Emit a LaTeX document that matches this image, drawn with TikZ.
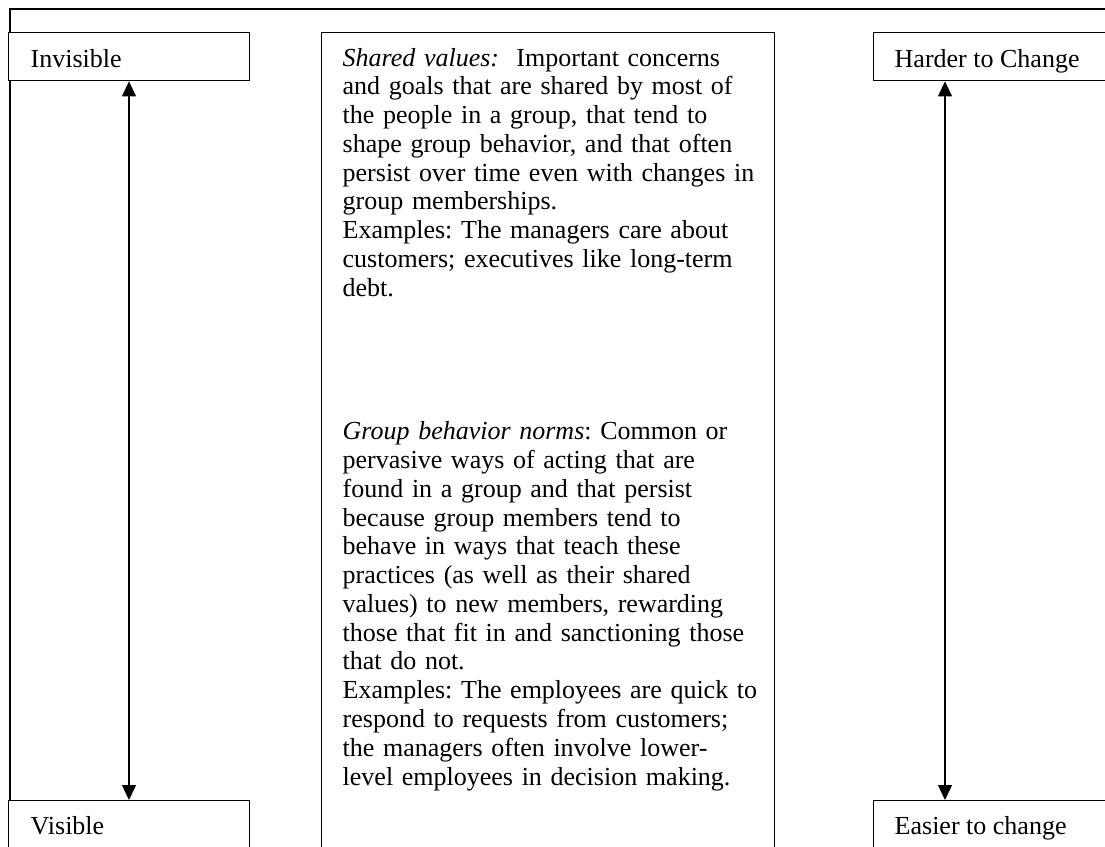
\documentclass[tikz,border=0pt]{standalone}
\usepackage{fontspec}
\setmainfont{Liberation Serif}
\usetikzlibrary{arrows.meta,calc}
\frenchspacing
\begin{document}
\begin{tikzpicture}[x=1pt,y=-1pt,
  line width=1.4pt,
  box/.style={draw,fill=white,anchor=north west,inner sep=0pt},
  lbl/.style={anchor=base west,inner sep=0pt,font=\fontsize{26}{28.76}\selectfont},
  body/.style={anchor=base west,inner sep=0pt,align=left,text width=440pt,
    font=\fontsize{26}{28.76}\selectfont},
  dbl/.style={{Triangle[length=15pt,width=14pt]}-{Triangle[length=15pt,width=14pt]},line width=1.3pt}]
\clip (0,0) rectangle (1105,846);
\fill[white] (0,0) rectangle (1105,846);

% outer frame, open to the right and bottom
\coordinate (frameTL) at (10,9);
\coordinate (frameBL) at (10,800);
\coordinate (frameTR) at (1120,9);
\draw (frameBL) -- (frameTL) -- (frameTR);

% left scale boxes
\node[box,minimum width=241pt,minimum height=48pt] (inv) at (8,32) {};
\node[box,minimum width=241pt,minimum height=60pt] (vis) at (8,800) {};
\node[lbl] (invT) at (30,67) {Invisible};
\node[lbl] (visT) at (30,834) {Visible};

% right scale boxes
\node[box,minimum width=241pt,minimum height=48pt] (hard) at (873,32) {};
\node[box,minimum width=241pt,minimum height=60pt] (easy) at (873,800) {};
\node[lbl] (hardT) at (894,67) {Harder to Change};
\node[lbl] (easyT) at (894,834) {Easier to change};

% central description box
\node[box,minimum width=453pt,minimum height=830pt] (mid) at (321,32) {};
\node[body] (midT) at (342,66) {%
\textit{Shared values:}\ \ Important concerns\\
and goals that are shared by most of\\
the people in a group, that tend to\\
shape group behavior, and that often\\
persist over time even with changes in\\
group memberships.\\
Examples: The managers care about\\
customers; executives like long-term\\
debt.\\[115.04pt]
\textit{Group behavior norms}: Common or\\
pervasive ways of acting that are\\
found in a group and that persist\\
because group members tend to\\
behave in ways that teach these\\
practices (as well as their shared\\
values) to new members, rewarding\\
those that fit in and sanctioning those\\
that do not.\\
Examples: The employees are quick to\\
respond to requests from customers;\\
the managers often involve lower-\\
level employees in decision making.};

% double-headed scale arrows
\coordinate (invA) at ($(inv.south west)+(121,0)$);
\coordinate (visA) at ($(vis.north west)+(121,0)$);
\coordinate (hardA) at ($(hard.south west)+(72,0)$);
\coordinate (easyA) at ($(easy.north west)+(72,0)$);
\draw[dbl] (invA) -- (visA);
\draw[dbl] (hardA) -- (easyA);
\end{tikzpicture}
\end{document}
